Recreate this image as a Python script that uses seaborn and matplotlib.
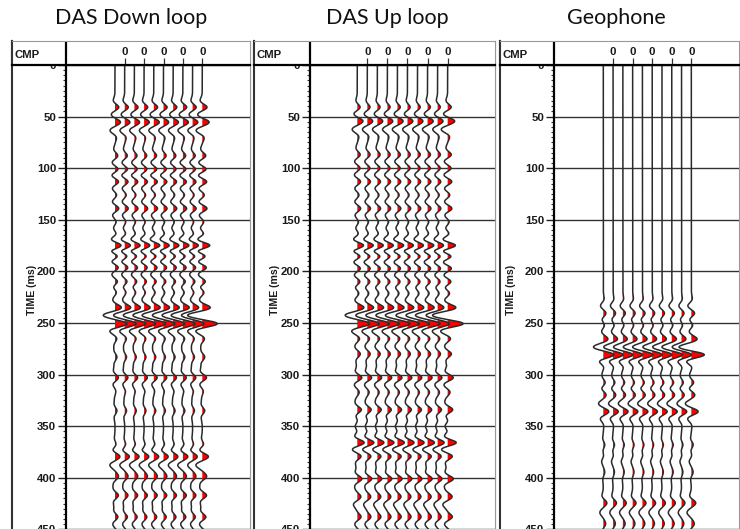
import numpy as np
import pandas as pd
import matplotlib
matplotlib.use("Agg")
import matplotlib.pyplot as plt
import seaborn as sns

# ---------------------------------------------------------------- data
titles = ["DAS Down loop", "DAS Up loop", "Geophone"]
trace_ids = [1, 2, 3, 4, 5, 6, 7, 8, 9, 10]
labelled_traces = [2, 4, 6, 8, 10]
cmp_labels = ["0", "0", "0", "0", "0"]
time_ticks = [0, 50, 100, 150, 200, 250, 300, 350, 400, 450]
trace_gain = [1.0, 0.95, 0.95, 0.95, 1.0, 0.95, 0.95, 1.0, 0.95, 1.25]

# reflection events: arrival time (ms) and amplitude (in trace spacings)
down_times = [41, 55, 64, 88, 101, 113, 126, 139, 152, 164, 175, 185, 196,
              210, 220, 235, 242, 251, 265, 283, 303, 316, 335, 368, 379,
              388, 399, 417, 438, 452]
down_amps = [0.4, 0.45, -0.35, 0.3, 0.35, 0.4, 0.2, 0.4, 0.15, 0.2, 0.75,
             0.45, 0.4, 0.3, 0.2, 0.35, -0.7, 1.0, 0.2, 0.2, 0.35, 0.1, 0.2,
             0.15, 0.4, -0.35, 0.3, 0.35, 0.3, 0.2]

up_times = [41, 54, 63, 87, 100, 113, 126, 139, 152, 164, 175, 185, 197, 210,
            221, 235, 242, 251, 265, 280, 303, 317, 334, 350, 366, 379, 401,
            418, 426, 438, 452]
up_amps = [0.3, 0.45, -0.35, 0.3, 0.3, 0.35, 0.2, 0.35, 0.15, 0.2, 0.75,
           0.45, 0.35, 0.3, 0.2, 0.35, -0.7, 1.0, 0.25, 0.3, 0.45, 0.2, 0.4,
           -0.2, 0.7, 0.4, 0.45, 0.25, -0.25, 0.35, 0.2]

geo_times = [233, 241, 252, 265, 273, 281, 292, 308, 319, 328, 336, 343, 368,
             384, 395, 424, 434, 445]
geo_amps = [-0.2, 0.2, 0.15, 0.25, -0.55, 0.85, 0.12, 0.22, 0.22, -0.25,
            0.4, -0.12, 0.15, -0.15, 0.12, 0.3, -0.25, 0.2]

events = [(down_times, down_amps), (up_times, up_amps), (geo_times, geo_amps)]

# ---------------------------------------------------------------- layout (pixels)
W, H, DPI = 740, 529, 100
HEADER_TOP, HEADER_BOTTOM, DATA_BOTTOM = 41, 65, 533
PX_PER_MS = 1.032
# box left, divider, box right, first trace x, trace spacing
panels = [
    (12, 66, 250, 115.0, 9.7),
    (254, 310, 495, 357.3, 10.04),
    (500, 554, 739, 603.3, 9.78),
]
title_pos = [(131, 18), (387, 18), (616, 18)]
ylabel_x = [32, 275, 511]

TICK_FONT = dict(family="Liberation Sans", weight="bold", size=8.2, color="#1a1a1a")
LABEL_FONT = dict(family="Liberation Sans", weight="bold", size=7.6, color="#1a1a1a")
WAVELET_HZ = 56.0


def rect(x0, x1, y0, y1):
    return [x0 / W, 1 - y1 / H, (x1 - x0) / W, (y1 - y0) / H]


def ricker(tau_ms, f=WAVELET_HZ):
    a = (np.pi * f * tau_ms / 1000.0) ** 2
    return (1 - 2 * a) * np.exp(-a)


sns.set_theme(style="white")
plt.rcParams["font.family"] = ["Liberation Sans", "DejaVu Sans"]

fig = plt.figure(figsize=(W / DPI, H / DPI), dpi=DPI)
fig.patch.set_facecolor("white")

t_max = (DATA_BOTTOM - HEADER_BOTTOM) / PX_PER_MS
t = np.arange(0, 455, 0.25)

for k, (box_l, div, box_r, first, sp) in enumerate(panels):
    ev_t, ev_a = events[k]
    signal = np.zeros_like(t)
    for et, ea in zip(ev_t, ev_a):
        signal += ea * ricker(t - et)

    rows = []
    for tr, g in zip(trace_ids, trace_gain):
        rows.append(pd.DataFrame({"trace": tr, "time": t,
                                  "amp": g * signal, "x": tr + g * signal}))
    df = pd.concat(rows, ignore_index=True)

    # outer frame of the panel
    frame = fig.add_axes(rect(box_l, box_r, HEADER_TOP, DATA_BOTTOM))
    frame.set_zorder(0)
    frame.set_xticks([])
    frame.set_yticks([])
    for s in ("top", "bottom"):
        frame.spines[s].set_visible(False)
    frame.spines["left"].set(color="#333333", lw=1.5)
    frame.spines["right"].set(color="#999999", lw=0.8)

    # trace area
    x_lo = 1 - (first - div) / sp
    x_hi = 1 + (box_r - first) / sp
    ax = fig.add_axes(rect(div, box_r, HEADER_BOTTOM, DATA_BOTTOM))
    ax.set_zorder(1)
    ax.set_facecolor("white")

    for tr in trace_ids:
        sub = df[df["trace"] == tr]
        ax.fill_betweenx(sub["time"], tr, sub["x"], where=sub["amp"] > 0,
                         interpolate=True, color="#ff0000", lw=0, zorder=2)
    sns.lineplot(data=df, x="x", y="time", units="trace", estimator=None,
                 sort=False, orient="y", color="#2a2a2a", lw=1.1,
                 legend=False, ax=ax, zorder=3)

    ax.set_xlim(x_lo, x_hi)
    ax.set_ylim(t_max, 0)
    ax.set_xticks([])
    ax.set_yticks(time_ticks, labels=[str(v) for v in time_ticks], **TICK_FONT)
    ax.set_yticks(np.arange(0, 455, 5), minor=True)
    ax.tick_params(axis="y", which="major", left=True, length=5.5, width=1.0,
                   direction="out", pad=1.5, color="#222222")
    ax.tick_params(axis="y", which="minor", left=True, length=2.2, width=0.8,
                   direction="out", color="#333333")
    ax.grid(axis="y", which="major", color="#333333", lw=1.0)
    ax.set_axisbelow(True)
    ax.set_xlabel("")
    ax.set_ylabel("TIME (ms)", **LABEL_FONT)
    ax.yaxis.set_label_coords((ylabel_x[k] - div) / (box_r - div),
                              1 - (290 - HEADER_BOTTOM) / (DATA_BOTTOM - HEADER_BOTTOM))
    ax.yaxis.label.set_va("center")
    for s in ("top", "bottom"):
        ax.spines[s].set_visible(False)
    ax.spines["left"].set(color="black", lw=1.6)
    ax.spines["right"].set(color="#999999", lw=0.8)

    # header row with CMP labels
    hx_lo = 1 - (first - box_l) / sp
    hd = fig.add_axes(rect(box_l, box_r, HEADER_TOP, HEADER_BOTTOM))
    hd.set_zorder(2)
    hd.set_facecolor("white")
    hd.set_xlim(hx_lo, x_hi)
    hd.set_ylim(0, 1)
    hd.set_xticks([])
    hd.set_yticks([])
    hd.spines["top"].set(color="#999999", lw=0.8)
    hd.spines["bottom"].set(color="black", lw=1.6)
    hd.spines["left"].set(color="#333333", lw=1.5)
    hd.spines["right"].set(color="#999999", lw=0.8)
    hd.axvline(x_lo, color="black", lw=1.6)
    hd.vlines(labelled_traces, 0, 0.3, color="#333333", lw=0.9)
    for tr, lab in zip(labelled_traces, cmp_labels):
        hd.text(tr, 0.55, lab, ha="center", va="center", **TICK_FONT)
    hd.text(0.01, 0.4, "CMP", transform=hd.transAxes, ha="left",
            va="center", **TICK_FONT)

    fig.text(title_pos[k][0] / W, 1 - title_pos[k][1] / H, titles[k],
             ha="center", va="center", family="Lato", fontsize=15.5,
             color="#111111")

fig.savefig("out.png", dpi=DPI, facecolor="white")
